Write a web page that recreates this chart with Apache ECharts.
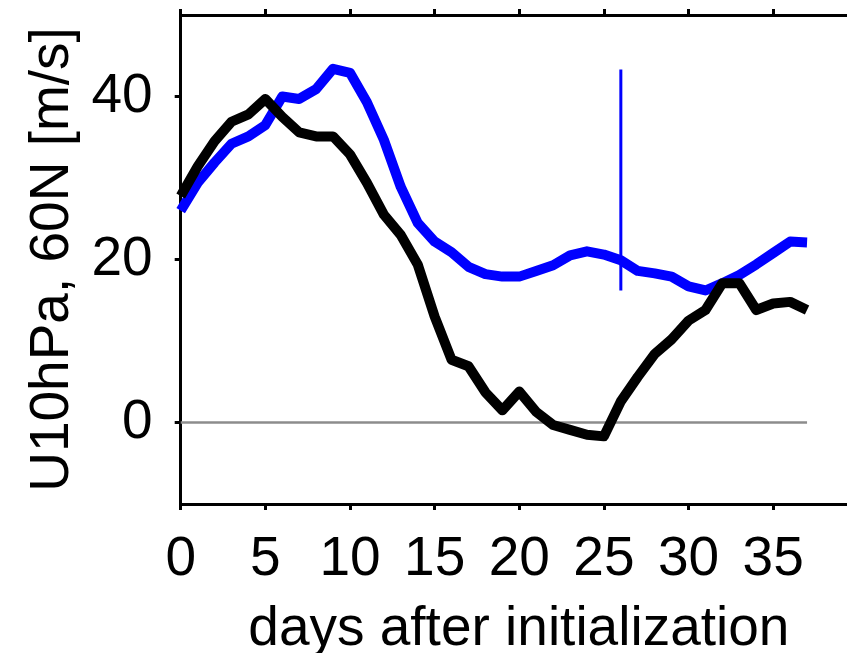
<!DOCTYPE html>
<html>
<head>
<meta charset="utf-8">
<script src="https://cdn.jsdelivr.net/npm/echarts@6/dist/echarts.min.js"></script>
<style>html,body{margin:0;padding:0;background:#fff;}#c{width:847px;height:653px;}</style>
</head>
<body>
<div id="c"></div>
<script>
var days = [0,1,2,3,4,5,6,7,8,9,10,11,12,13,14,15,16,17,18,19,20,21,22,23,24,25,26,27,28,29,30,31,32,33,34,35,36,37];
var blackSeries = [27.8,31.4,34.5,36.9,37.8,39.7,37.5,35.6,35.1,35.1,32.9,29.4,25.5,23.0,19.4,13.0,7.7,6.9,3.7,1.5,3.8,1.3,-0.3,-0.9,-1.5,-1.7,2.6,5.6,8.4,10.2,12.5,13.8,17.1,17.1,13.8,14.6,14.8,13.8];
var blueSeries = [26.0,29.4,31.9,34.2,35.1,36.5,40.0,39.7,40.9,43.4,42.9,39.3,34.7,28.9,24.5,22.2,20.9,19.1,18.2,17.9,17.9,18.6,19.3,20.5,21.0,20.6,19.9,18.6,18.3,17.9,16.7,16.2,17.1,18.1,19.4,20.8,22.2,22.1];
var spreadDay = 26;
var spreadRange = [16.2, 43.3];
var zeroLineDays = [0, 37];
var xTicks = [0,5,10,15,20,25,30,35];
var yTicks = [0,20,40];
var yName = 'U10hPa, 60N [m/s]';
var xName = 'days after initialization';

function pairs(xs, ys){ return xs.map(function(x,i){ return [x, ys[i]]; }); }

var font = 'Liberation Sans, Arial, sans-serif';
var fs = 55;
var chart = echarts.init(document.getElementById('c'), null, {renderer:'canvas'});
var axisLine = {show:true, onZero:false, lineStyle:{color:'#000', width:3}};
var tick = {show:true, inside:false, length:6, lineStyle:{color:'#000', width:3}, customValues: xTicks};
chart.setOption({
  animation:false,
  backgroundColor:'#fff',
  grid:{left:180.7, top:15, right:0, bottom:149, containLabel:false, outerBoundsMode:'none'},
  xAxis:[{
    type:'value', position:'bottom', min:0, max:39.36,
    axisLine:axisLine, axisTick:tick,
    axisLabel:{show:true, customValues:xTicks, margin:28, color:'#000', fontSize:fs, fontFamily:font},
    splitLine:{show:false},
    name:xName, nameLocation:'middle', nameGap:98,
    nameTextStyle:{color:'#000', fontSize:fs, fontFamily:font, padding:[0,0,0,10]}
  },{
    type:'value', position:'top', min:0, max:39.36,
    axisLine:axisLine, axisTick:tick,
    axisLabel:{show:false}, splitLine:{show:false}
  }],
  yAxis:[{
    type:'value', position:'left', min:-10, max:50,
    axisLine:axisLine,
    axisTick:{show:true, inside:false, length:6, lineStyle:{color:'#000', width:3}, customValues:yTicks},
    axisLabel:{show:true, customValues:yTicks, margin:28, color:'#000', fontSize:fs, fontFamily:font},
    splitLine:{show:false},
    name:yName, nameLocation:'middle', nameGap:100,
    nameTextStyle:{color:'#000', fontSize:fs, fontFamily:font}
  }],
  series:[
    {type:'line', data:pairs(zeroLineDays,[0,0]), symbol:'none', lineStyle:{color:'#8c8c8c', width:2.5}, z:1, silent:true},
    {type:'line', data:pairs(days, blueSeries), symbol:'none', lineStyle:{color:'#0000ff', width:10, join:'round'}, z:2},
    {type:'line', data:pairs(days, blackSeries), symbol:'none', lineStyle:{color:'#000000', width:10, join:'round'}, z:3},
    {type:'line', data:[[spreadDay, spreadRange[0]],[spreadDay, spreadRange[1]]], symbol:'none', lineStyle:{color:'#0000ff', width:3}, z:4}
  ]
});
</script>
</body>
</html>
